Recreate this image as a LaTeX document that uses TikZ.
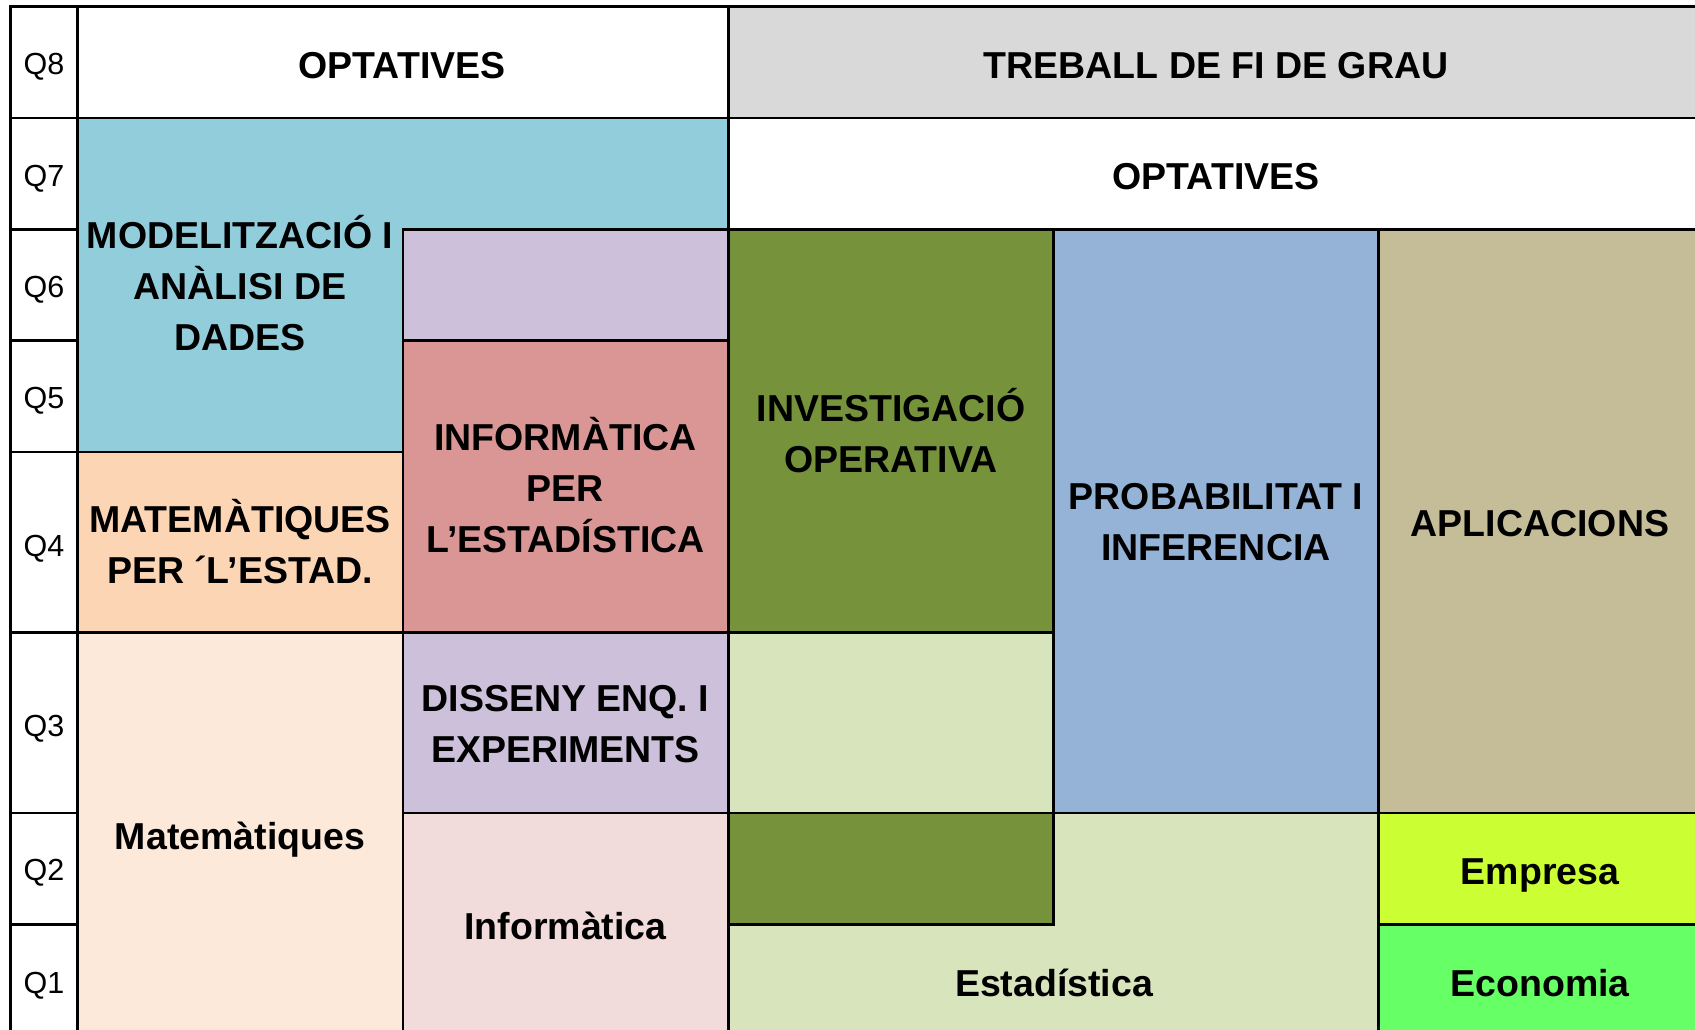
\documentclass[tikz,border=0pt]{standalone}
\usepackage{fontspec}
\setmainfont{Liberation Sans}
\definecolor{cGrey}{HTML}{D9D9D9}
\definecolor{cModel}{HTML}{92CDDC}
\definecolor{cLilac}{HTML}{CCC0DA}
\definecolor{cInfoEst}{HTML}{DA9694}
\definecolor{cMatEst}{HTML}{FCD5B4}
\definecolor{cMat}{HTML}{FDE9D9}
\definecolor{cInfo}{HTML}{F2DCDB}
\definecolor{cDGreen}{HTML}{76933C}
\definecolor{cLGreen}{HTML}{D8E4BC}
\definecolor{cProb}{HTML}{95B3D7}
\definecolor{cApl}{HTML}{C4BD97}
\definecolor{cEmp}{HTML}{CCFF33}
\definecolor{cEco}{HTML}{66FF66}
\begin{document}
\begin{tikzpicture}[x=1pt,y=-1pt,line width=2.6pt,
  cell/.style={draw=black,line join=miter},
  lbl/.style={font=\fontsize{37.5}{51}\selectfont\bfseries,align=center,inner sep=0pt},
  one/.style={lbl,text height=27pt,text depth=0pt},
  qlbl/.style={font=\fontsize{30.5}{36}\selectfont,inner sep=0pt,anchor=base}]
\useasboundingbox (0,0) rectangle (1695,1030);
\clip (0,0) rectangle (1695,1030);
% quarter column
\foreach \ya/\yb/\q in {6.5/118/8,118/229.5/7,229.5/340.5/6,340.5/452/5,452/632.5/4,632.5/813/3,813/924.5/2,924.5/1045/1}{
  \draw[cell,fill=white] (10.5,\ya) rectangle (77.5,\yb);
}
% blocks
\draw[cell,fill=white] (77.5,6.5) rectangle (728.5,118);
\draw[cell,fill=cGrey] (728.5,6.5) rectangle (1710,118);
\draw[cell,fill=white] (728.5,118) rectangle (1710,229.5);
\draw[cell,fill=cModel] (77.5,118) -- (728.5,118) -- (728.5,229.5) -- (403,229.5) -- (403,452) -- (77.5,452) -- cycle;
\draw[cell,fill=cLilac] (403,229.5) rectangle (728.5,340.5);
\draw[cell,fill=cInfoEst] (403,340.5) rectangle (728.5,632.5);
\draw[cell,fill=cMatEst] (77.5,452) rectangle (403,632.5);
\draw[cell,fill=cMat] (77.5,632.5) rectangle (403,1045);
\draw[cell,fill=cLilac] (403,632.5) rectangle (728.5,813);
\draw[cell,fill=cInfo] (403,813) rectangle (728.5,1045);
\draw[cell,fill=cDGreen] (728.5,229.5) rectangle (1053.5,632.5);
\draw[cell,fill=cLGreen] (728.5,632.5) rectangle (1053.5,813);
\draw[cell,fill=cLGreen] (1053.5,813) -- (1378.5,813) -- (1378.5,1045) -- (728.5,1045) -- (728.5,924.5) -- (1053.5,924.5) -- cycle;
\draw[cell,fill=cDGreen] (728.5,813) rectangle (1053.5,924.5);
\draw[cell,fill=cProb] (1053.5,229.5) rectangle (1378.5,813);
\draw[cell,fill=cApl] (1378.5,229.5) rectangle (1710,813);
\draw[cell,fill=cEmp] (1378.5,813) rectangle (1710,924.5);
\draw[cell,fill=cEco] (1378.5,924.5) rectangle (1710,1045);
% quarter labels
\node[qlbl] (q8) at (44,75) {Q8};
\node[qlbl] (q7) at (44,186) {Q7};
\node[qlbl] (q6) at (44,297.5) {Q6};
\node[qlbl] (q5) at (44,408.5) {Q5};
\node[qlbl] (q4) at (44,556) {Q4};
\node[qlbl] (q3) at (44,736) {Q3};
\node[qlbl] (q2) at (44,880) {Q2};
\node[qlbl] (q1) at (44,993) {Q1};
% block labels
\node[one] (opt8) at (402,65) {OPTATIVES};
\node[one] (tfg) at (1216,65) {TREBALL DE FI DE GRAU};
\node[one] (opt7) at (1216,176) {OPTATIVES};
\node[lbl] (model) at (240,283.5) {MODELITZACIÓ I\\ANÀLISI DE\\DADES};
\node[lbl] (infoest) at (565.5,485.5) {INFORMÀTICA\\PER\\L’ESTADÍSTICA};
\node[lbl] (matest) at (240,541.5) {MATEMÀTIQUES\\PER ´L’ESTAD.};
\node[one] (mat) at (240,836) {Matemàtiques};
\node[lbl] (diss) at (565.5,724) {DISSENY ENQ. I\\EXPERIMENTS};
\node[one] (info) at (565.5,926) {Informàtica};
\node[lbl] (invop) at (891,430.5) {INVESTIGACIÓ\\OPERATIVA};
\node[lbl] (prob) at (1216,522) {PROBABILITAT I\\INFERENCIA};
\node[one] (apl) at (1540,523) {APLICACIONS};
\node[one] (emp) at (1540,871) {Empresa};
\node[one] (eco) at (1540,983) {Economia};
\node[one] (est) at (1054,983) {Estadística};
\end{tikzpicture}
\end{document}
